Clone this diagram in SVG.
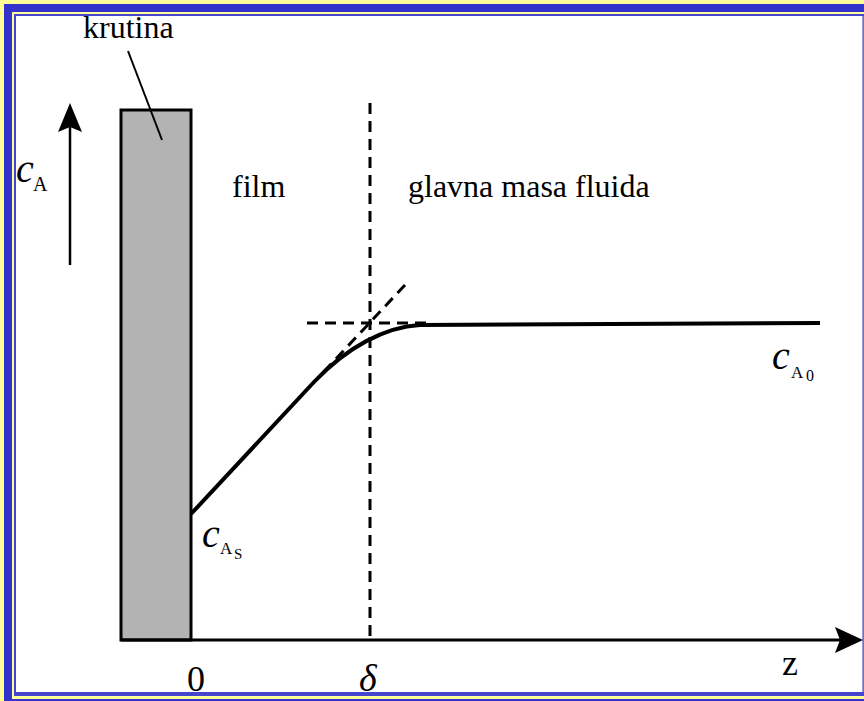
<svg xmlns="http://www.w3.org/2000/svg" width="864" height="701" viewBox="0 0 864 701">
<style>
.t{font-family:"Liberation Serif","Times New Roman",serif;fill:#000}
.i{font-style:italic}
.dash{fill:none;stroke:#000;stroke-width:3;stroke-dasharray:11 7}
.ln{fill:none;stroke:#000}
</style>
<g id="frame">
<rect x="0" y="0" width="864" height="701" fill="#FFFF99"/>
<rect x="4" y="4" width="900" height="900" fill="#3333CC"/>
<rect x="12" y="12" width="900" height="687" fill="#FFFF99"/>
<rect x="14" y="14" width="850" height="682" fill="#4444CC"/>
<rect x="16" y="16" width="846" height="676" fill="#FFFFFF"/>
<rect x="862" y="16" width="1.5" height="676" fill="#9999DD"/>
</g>
<g id="krutina">
<rect x="121" y="110" width="70" height="530" fill="#B3B3B3" stroke="#000" stroke-width="3"/>
<text class="t" x="83" y="38" font-size="32">krutina</text>
</g>
<g id="film"><text class="t" x="232" y="197" font-size="32">film</text></g>
<g id="glavna"><text class="t" x="408" y="197" font-size="32">glavna masa fluida</text></g>
<g id="cA">
<text class="t i" x="16" y="182" font-size="40">c</text>
<text class="t" x="33" y="191" font-size="20">A</text>
</g>
<g id="cAs">
<text class="t i" x="202" y="547" font-size="40">c</text>
<text class="t" x="220" y="554" font-size="17">A</text>
<text class="t" x="234" y="559" font-size="15">S</text>
</g>
<g id="cA0">
<text class="t i" x="772" y="369" font-size="40">c</text>
<text class="t" x="791" y="378" font-size="17">A</text>
<text class="t" x="806" y="381" font-size="16">0</text>
</g>
<g id="zero"><text class="t" x="187" y="691" font-size="36">0</text></g>
<g id="delta"><text class="t i" x="359" y="691" font-size="38">δ</text></g>
<g id="z"><text class="t" x="782" y="675" font-size="36">z</text></g>
<g id="connectors">
<line class="ln" x1="128" y1="51" x2="162" y2="140" stroke-width="2"/>
<line class="ln" x1="70" y1="265" x2="70" y2="125" stroke-width="2.5"/>
<polygon points="70,103 82,132 70,127 58,132" fill="#000"/>
<line class="ln" x1="121" y1="640" x2="840" y2="640" stroke-width="3"/>
<polygon points="863,640 835,653 840,640 835,627" fill="#000"/>
<line class="dash" x1="370" y1="103" x2="370" y2="640"/>
<line class="dash" x1="307" y1="323" x2="432" y2="323"/>
<line class="dash" x1="405" y1="285" x2="318" y2="378"/>
<path class="ln" d="M191,514 L314,382 C347,347 385,327 420,325 L820,323" stroke-width="4"/>
</g>
</svg>
